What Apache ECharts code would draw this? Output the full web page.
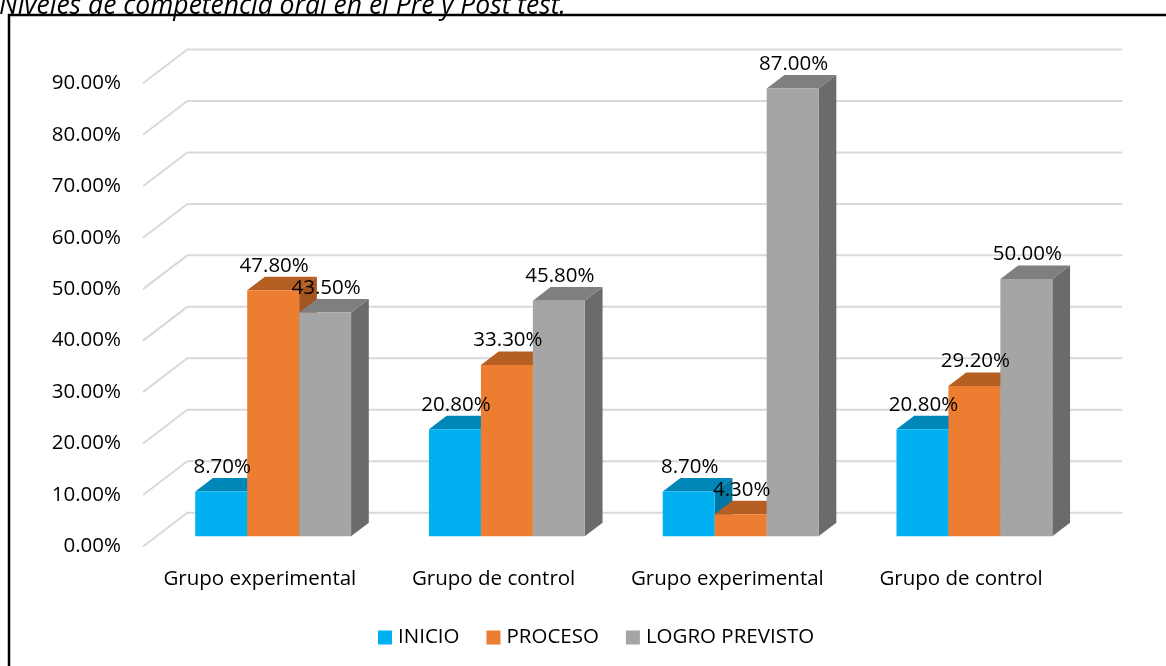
<!DOCTYPE html>
<html>
<head>
<meta charset="utf-8">
<script src="https://cdn.jsdelivr.net/npm/echarts@6/dist/echarts.min.js"></script>
<style>
  html, body { margin: 0; padding: 0; background: #fff; }
  #chart { width: 1166px; height: 666px; }
</style>
</head>
<body>
<div id="chart"></div>
<script>
// Niveles de competencia oral: pre y post test
const categories = ['Grupo experimental', 'Grupo de control', 'Grupo experimental', 'Grupo de control'];
const seriesNames = ['INICIO', 'PROCESO', 'LOGRO PREVISTO'];
const inicio = [8.7, 20.8, 8.7, 20.8];
const proceso = [47.8, 33.3, 4.3, 29.2];
const logro = [43.5, 45.8, 87.0, 50.0];
const yTicks = [0, 10, 20, 30, 40, 50, 60, 70, 80, 90];

const FONT = '"Open Sans", "Noto Sans", sans-serif';
const FS = 20.5;

// pseudo-3D depth of the floor, in pixels (towards the back wall)
const DX = 44.3, DY = -33.8;
// columns occupy the middle of the depth
const D_FRONT = 0.3, D_BACK = 0.7;

const palettes = [
  { front: '#00B0F0', top: '#0087BA', side: '#0076A3' },
  { front: '#ED7D31', top: '#B65F23', side: '#A3541F' },
  { front: '#A5A5A5', top: '#7F7F7F', side: '#6B6B6B' }
];

function pct(v) { return v.toFixed(2) + '%'; }

function columnSeries(idx, values) {
  const pal = palettes[idx];
  return {
    type: 'custom',
    name: seriesNames[idx],
    coordinateSystem: 'cartesian2d',
    z: 3,
    itemStyle: { color: pal.front },
    encode: { x: 0, y: 1 },
    data: values.map((v, i) => [i, v]),
    renderItem: function (params, api) {
      const ci = api.value(0);
      const v = api.value(1);
      const base = api.coord([ci, 0]);
      const top = api.coord([ci, v]);
      const band = api.size([1, 0])[0];
      const w = band / 4.5;
      const x0 = base[0] + (idx - 1.5) * w + D_FRONT * DX;
      const yb = base[1] + D_FRONT * DY;
      const yt = top[1] + D_FRONT * DY;
      const ddx = (D_BACK - D_FRONT) * DX;
      const ddy = (D_BACK - D_FRONT) * DY;
      return {
        type: 'group',
        children: [
          {
            type: 'polygon',
            shape: { points: [[x0 + w, yt], [x0 + w + ddx, yt + ddy], [x0 + w + ddx, yb + ddy], [x0 + w, yb]] },
            style: { fill: pal.side }
          },
          {
            type: 'polygon',
            shape: { points: [[x0, yt], [x0 + w, yt], [x0 + w + ddx, yt + ddy], [x0 + ddx, yt + ddy]] },
            style: { fill: pal.top }
          },
          {
            type: 'rect',
            shape: { x: x0, y: yt, width: w, height: yb - yt },
            style: { fill: pal.front }
          },
          {
            type: 'text',
            z2: 100,
            style: {
              text: pct(v),
              x: x0 + w / 2 + 1,
              y: yt - 24.5,
              align: 'center',
              verticalAlign: 'middle',
              fill: '#000',
              font: FS + 'px ' + FONT
            }
          }
        ]
      };
    }
  };
}

// back wall and left floor edges for each gridline value
const wallSeries = {
  type: 'custom',
  coordinateSystem: 'cartesian2d',
  z: 1,
  silent: true,
  encode: { x: 0, y: 1 },
  data: yTicks.map(t => [0, t]),
  renderItem: function (params, api) {
    const cs = params.coordSys;
    const y = api.coord([0, api.value(1)])[1];
    const left = cs.x;
    return {
      type: 'polyline',
      shape: { points: [[left, y], [left + DX, y + DY], [left + cs.width + DX, y + DY]] },
      style: { stroke: '#D9D9D9', lineWidth: 2, fill: null }
    };
  }
};

const chart = echarts.init(document.getElementById('chart'), null, { renderer: 'canvas' });
chart.setOption({
  animation: false,
  backgroundColor: '#fff',
  textStyle: { fontFamily: FONT },
  graphic: [
    {
      type: 'text',
      left: -1,
      top: -7,
      style: {
        text: 'Niveles de competencia oral en el Pre y Post test.',
        font: 'italic 26.5px ' + FONT,
        fill: '#000'
      }
    },
    {
      type: 'rect',
      shape: { x: 9, y: 15, width: 1300, height: 800 },
      style: { fill: null, stroke: '#000', lineWidth: 2.5 }
    }
  ],
  legend: {
    left: 373,
    top: 622,
    itemWidth: 14,
    itemHeight: 14,
    itemGap: 27,
    icon: 'rect',
    textStyle: { fontSize: FS, color: '#000', fontFamily: FONT, padding: [0, 0, 0, 1] },
    data: seriesNames
  },
  grid: { left: 143, right: 88, top: 83.3, bottom: 119.5, containLabel: false },
  xAxis: {
    type: 'category',
    data: categories,
    axisLine: { show: false },
    axisTick: { show: false },
    splitLine: { show: false },
    axisLabel: { color: '#000', fontSize: FS, fontFamily: FONT, margin: 22, interval: 0 }
  },
  yAxis: {
    type: 'value',
    min: 0,
    max: 90,
    interval: 10,
    axisLine: { show: false },
    axisTick: { show: false },
    splitLine: { show: false },
    axisLabel: { color: '#000', fontSize: FS, fontFamily: FONT, margin: 22, formatter: v => pct(v) }
  },
  series: [
    wallSeries,
    columnSeries(0, inicio),
    columnSeries(1, proceso),
    columnSeries(2, logro)
  ]
});
</script>
</body>
</html>
